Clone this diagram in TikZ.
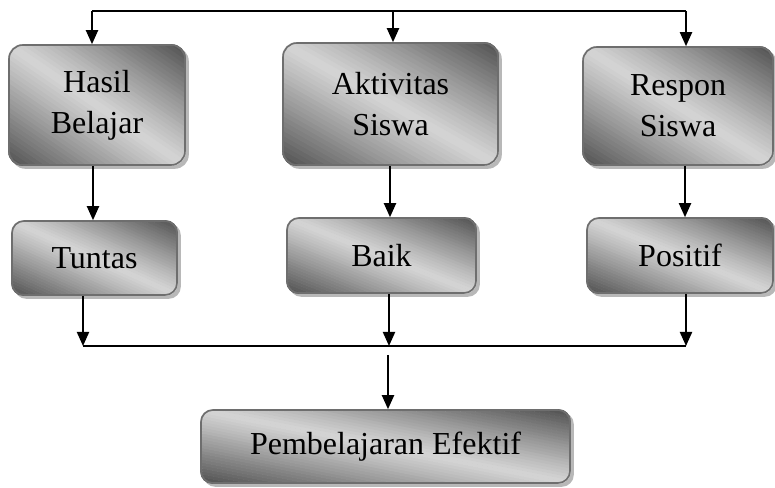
\documentclass[tikz,border=0pt]{standalone}
\usepackage{fontspec}
\setmainfont{Liberation Serif}
\usetikzlibrary{arrows.meta}
\pgfdeclarelayer{background}
\pgfsetlayers{background,main}
\definecolor{boxdark}{HTML}{555555}
\definecolor{boxlight}{HTML}{D4D4D4}
\definecolor{boxedge}{HTML}{6E6E6E}
\definecolor{shadowgray}{HTML}{B8B8B8}
\tikzset{
  gbox/.style 2 args={rounded corners=14pt, draw=boxedge, line width=1.6pt,
    minimum width=#1pt, minimum height=#2pt,
    align=center, inner sep=0pt,
    font=\fontsize{32}{41}\selectfont},
  arr/.style={line width=2pt, -{Triangle[width=12pt,length=14pt]}},
  ln/.style={line width=2pt}
}
% gradient fill and drop shadow behind a named node: name, width, height, corner radius
\newcommand\gshade[4]{%
  \begin{pgfonlayer}{background}
    \fill[shadowgray, rounded corners=#4] ([xshift=3pt,yshift=-3pt]#1.south west) rectangle ([xshift=3pt,yshift=-3pt]#1.north east);
    \begin{scope}
      \clip[rounded corners=#4] (#1.south west) rectangle (#1.north east);
      \begin{scope}[shift={(#1.center)}, xscale=#2/2, yscale=#3/2]
        \foreach \i in {0,...,49}{
          \pgfmathsetmacro\sa{-2+\i*0.08}
          \pgfmathsetmacro\sb{\sa+0.09}
          \pgfmathtruncatemacro\pp{100*min(1,(abs(\sa+0.04)/2)^1.1*1.05)}
          \fill[boxdark!\pp!boxlight] (\sa+2,-2) -- (\sb+2,-2) -- (\sb-2,2) -- (\sa-2,2) -- cycle;
        }
      \end{scope}
    \end{scope}
  \end{pgfonlayer}}
\begin{document}
\begin{tikzpicture}[x=1pt,y=1pt]
\useasboundingbox (0,0) rectangle (775,487);
% boxes
\node[gbox={176}{120}] (hb) at (97,382) {Hasil\\Belajar};
\node[gbox={215}{122}] (as) at (390.5,383) {Aktivitas\\Siswa};
\node[gbox={190}{118}] (rs) at (678,381) {Respon\\Siswa};
\node[gbox={165}{74}, rounded corners=12pt] (tu) at (94.5,229) {Tuntas};
\node[gbox={189}{75}, rounded corners=12pt] (ba) at (381.5,231.5) {Baik};
\node[gbox={186}{75}, rounded corners=12pt] (po) at (680,231.5) {Positif};
\node[gbox={369}{73}, rounded corners=12pt] (pe) at (385.5,40.5) {Pembelajaran Efektif};
\gshade{hb}{176}{120}{14pt}
\gshade{as}{215}{122}{14pt}
\gshade{rs}{190}{118}{14pt}
\gshade{tu}{165}{74}{12pt}
\gshade{ba}{189}{75}{12pt}
\gshade{po}{186}{75}{12pt}
\gshade{pe}{369}{73}{12pt}
% column helper coordinates
\coordinate (a1) at (92,476);
\coordinate (a2) at (393,476);
\coordinate (a3) at (686,476);
\coordinate (b1) at (93,0);
\coordinate (b2) at (390,0);
\coordinate (b3) at (685,0);
\coordinate (l1) at (83,141);
\coordinate (l2) at (389,141);
\coordinate (l3) at (686,141);
\coordinate (d) at (388,132);
% top distribution line
\draw[ln] (a1) -- (a3);
\draw[arr] (a1) -- (a1 |- hb.north);
\draw[arr] (a2) -- (a2 |- as.north);
\draw[arr] (a3) -- (a3 |- rs.north);
% box to result
\draw[arr] (b1 |- hb.south) -- (b1 |- tu.north);
\draw[arr] (b2 |- as.south) -- (b2 |- ba.north);
\draw[arr] (b3 |- rs.south) -- (b3 |- po.north);
% result to collecting line
\draw[arr] (l1 |- tu.south) -- (l1);
\draw[arr] (l2 |- ba.south) -- (l2);
\draw[arr] (l3 |- po.south) -- (l3);
\draw[ln] (l1) -- (l3);
% final arrow
\draw[arr] (d) -- (d |- pe.north);
\end{tikzpicture}
\end{document}
